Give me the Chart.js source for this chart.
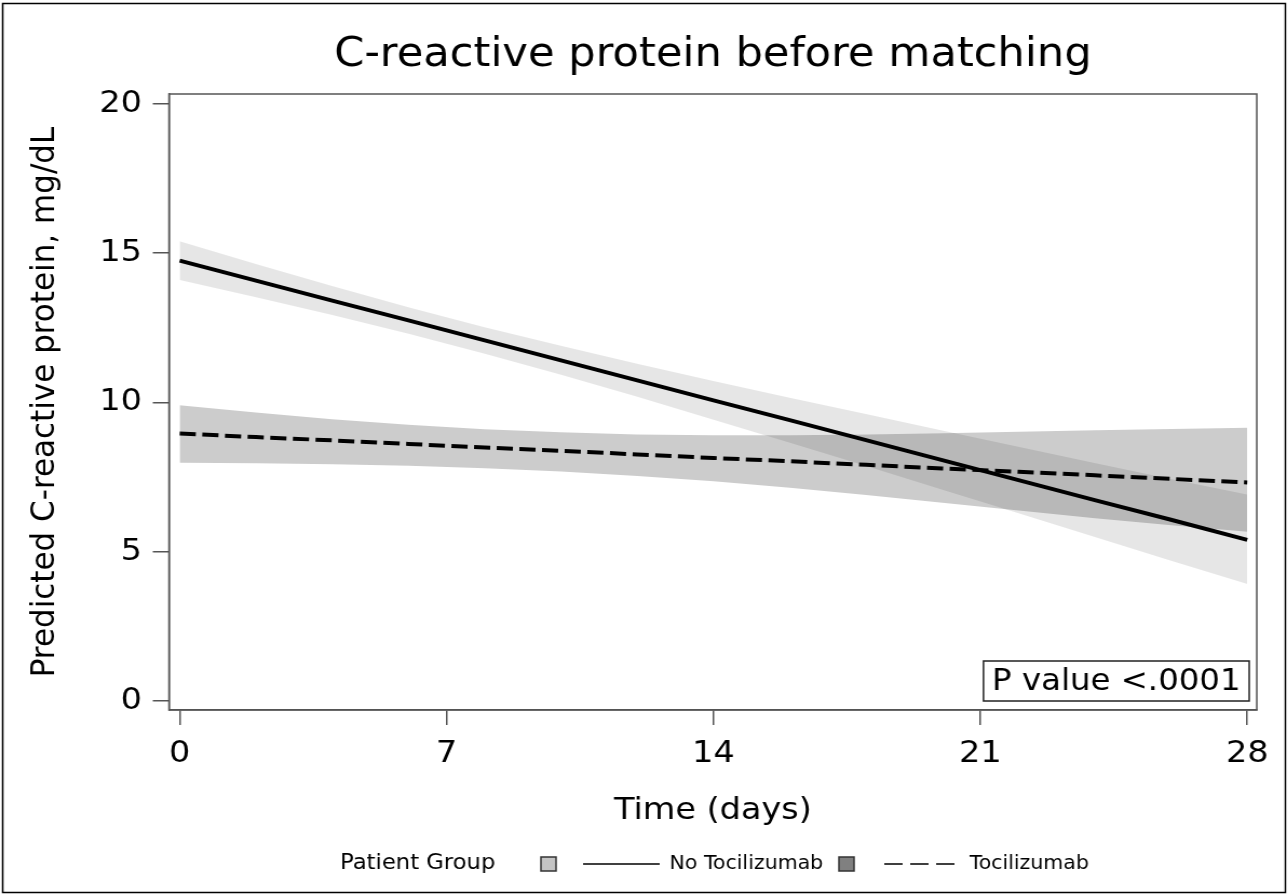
<!DOCTYPE html>
<html lang="en">
<head>
<meta charset="UTF-8">
<title>C-reactive protein before matching</title>
<script src="https://cdn.jsdelivr.net/npm/chart.js"></script>
<style>
  html, body { margin: 0; padding: 0; background: #fff; }
  /* the figure is laid out 1193px wide and widened to the page width */
  #wrap { width: 1193px; height: 895px; transform: scaleX(1.0797); transform-origin: 0 0; }
</style>
</head>
<body>
<div id="wrap"><canvas id="grafico"></canvas></div>

<script>
// days since admission
const days = [0, 2, 4, 6, 8, 10, 12, 14, 16, 18, 20, 22, 24, 26, 28];

// No Tocilizumab: predicted CRP and 95% band
const semToci    = [14.75, 14.08, 13.41, 12.75, 12.08, 11.41, 10.74, 10.07, 9.41, 8.74, 8.07, 7.40, 6.73, 6.07, 5.40];
const semTociSup = [15.40, 14.64, 13.90, 13.19, 12.52, 11.90, 11.30, 10.72, 10.16, 9.61, 9.06, 8.52, 7.97, 7.44, 6.92];
const semTociInf = [14.10, 13.52, 12.93, 12.30, 11.63, 10.93, 10.19, 9.42, 8.65, 7.87, 7.08, 6.29, 5.49, 4.70, 3.92];

// Tocilizumab: predicted CRP and 95% band
const toci    = [8.96, 8.84, 8.73, 8.61, 8.49, 8.38, 8.26, 8.14, 8.03, 7.91, 7.79, 7.68, 7.56, 7.44, 7.32];
const tociSup = [9.91, 9.66, 9.44, 9.25, 9.10, 9.00, 8.93, 8.90, 8.90, 8.93, 8.97, 9.02, 9.07, 9.11, 9.15];
const tociInf = [7.98, 7.96, 7.93, 7.88, 7.80, 7.69, 7.54, 7.36, 7.14, 6.90, 6.64, 6.38, 6.12, 5.89, 5.67];

const grupos = ['No Tocilizumab', 'Tocilizumab'];
const xTicks = [0, 7, 14, 21, 28];
const yTicks = [0, 5, 10, 15, 20];
const pValor = 'P value <.0001';

const fonte = 'DejaVu Sans';

function pontos(valores) {
    return days.map((d, i) => ({ x: d, y: valores[i] }));
}

// plot frame, outer border, p-value inset and the legend row
const extras = {
    id: 'extras',
    afterDraw(chart) {
        const ctx = chart.ctx;
        const a = chart.chartArea;
        ctx.save();

        ctx.strokeStyle = '#555';
        ctx.lineWidth = 1.5;
        ctx.strokeRect(a.left, a.top, a.right - a.left, a.bottom - a.top);

        ctx.strokeStyle = '#000';
        ctx.strokeRect(2.5, 3.5, 1188, 889);

        // p-value box
        ctx.font = `30px "${fonte}"`;
        const w = ctx.measureText(pValor).width;
        const bx2 = a.right - 7, by2 = a.bottom - 9;
        const bx1 = bx2 - w - 16, by1 = by2 - 40;
        ctx.fillStyle = '#fff';
        ctx.fillRect(bx1, by1, bx2 - bx1, by2 - by1);
        ctx.strokeStyle = '#222';
        ctx.lineWidth = 1.5;
        ctx.strokeRect(bx1, by1, bx2 - bx1, by2 - by1);
        ctx.fillStyle = '#000';
        ctx.textBaseline = 'middle';
        ctx.textAlign = 'left';
        ctx.fillText(pValor, bx1 + 8, (by1 + by2) / 2 + 1);

        // legend
        const ly = 864;
        ctx.font = `21px "${fonte}"`;
        ctx.fillText('Patient Group', 315, ly);

        ctx.font = `19px "${fonte}"`;
        ctx.lineWidth = 1.5;
        ctx.strokeStyle = '#333';
        ctx.fillStyle = '#c4c4c4';
        ctx.fillRect(501, ly - 7, 14, 14);
        ctx.strokeRect(501, ly - 7, 14, 14);
        ctx.strokeStyle = '#000';
        ctx.beginPath(); ctx.moveTo(540, ly); ctx.lineTo(611, ly); ctx.stroke();
        ctx.fillStyle = '#000';
        ctx.fillText(grupos[0], 620, ly);

        ctx.strokeStyle = '#333';
        ctx.fillStyle = '#808080';
        ctx.fillRect(777, ly - 7, 14, 14);
        ctx.strokeRect(777, ly - 7, 14, 14);
        ctx.strokeStyle = '#000';
        ctx.setLineDash([17, 7]);
        ctx.beginPath(); ctx.moveTo(819, ly); ctx.lineTo(886, ly); ctx.stroke();
        ctx.setLineDash([]);
        ctx.fillStyle = '#000';
        ctx.fillText(grupos[1], 898, ly);

        ctx.restore();
    }
};

const eixoFonte = { family: fonte, size: 31 };

new Chart(document.getElementById('grafico'), {
    type: 'line',
    data: {
        datasets: [
            { label: grupos[0] + ' upper', data: pontos(semTociSup), borderWidth: 0, pointRadius: 0,
              fill: '+1', backgroundColor: 'rgba(0,0,0,0.098)' },
            { label: grupos[0] + ' lower', data: pontos(semTociInf), borderWidth: 0, pointRadius: 0, fill: false },
            { label: grupos[1] + ' upper', data: pontos(tociSup), borderWidth: 0, pointRadius: 0,
              fill: '+1', backgroundColor: 'rgba(0,0,0,0.2)' },
            { label: grupos[1] + ' lower', data: pontos(tociInf), borderWidth: 0, pointRadius: 0, fill: false },
            { label: grupos[0], data: pontos(semToci), borderColor: '#000', borderWidth: 4, pointRadius: 0, fill: false },
            { label: grupos[1], data: pontos(toci), borderColor: '#000', borderWidth: 4, pointRadius: 0, fill: false,
              borderDash: [15, 6] }
        ]
    },
    options: {
        responsive: true,
        maintainAspectRatio: false,
        animation: false,
        layout: { padding: { top: 10, left: 23, right: 29, bottom: 60 } },
        plugins: {
            legend: { display: false },
            tooltip: { enabled: false },
            title: {
                display: true,
                fullSize: false,
                text: 'C-reactive protein before matching',
                color: '#000',
                font: { family: fonte, size: 40, weight: 'normal' },
                padding: { top: 22, bottom: 14 }
            }
        },
        scales: {
            x: {
                type: 'linear',
                min: -0.28,
                max: 28.25,
                afterBuildTicks: s => { s.ticks = xTicks.map(v => ({ value: v })); },
                afterFit: s => { s.height = 125; },
                grid: { drawOnChartArea: false, tickLength: 15, color: '#555', lineWidth: 1.5 },
                border: { display: true, color: '#555', width: 1.5 },
                ticks: { font: eixoFonte, color: '#000', padding: 10, maxRotation: 0, autoSkip: false },
                title: { display: true, text: 'Time (days)', color: '#000', font: eixoFonte, padding: { top: 20, bottom: 5 } }
            },
            y: {
                min: -0.3,
                max: 20.33,
                afterBuildTicks: s => { s.ticks = yTicks.map(v => ({ value: v })); },
                afterFit: s => { s.width = 133.5; },
                grid: { drawOnChartArea: false, tickLength: 15, color: '#555', lineWidth: 1.5 },
                border: { display: true, color: '#555', width: 1.5 },
                ticks: { font: eixoFonte, color: '#000', padding: 10, autoSkip: false },
                title: { display: true, text: 'Predicted C-reactive protein, mg/dL', color: '#000', font: eixoFonte,
                         padding: { top: 0, bottom: 32 } }
            }
        }
    },
    plugins: [extras]
});
</script>
</body>
</html>
